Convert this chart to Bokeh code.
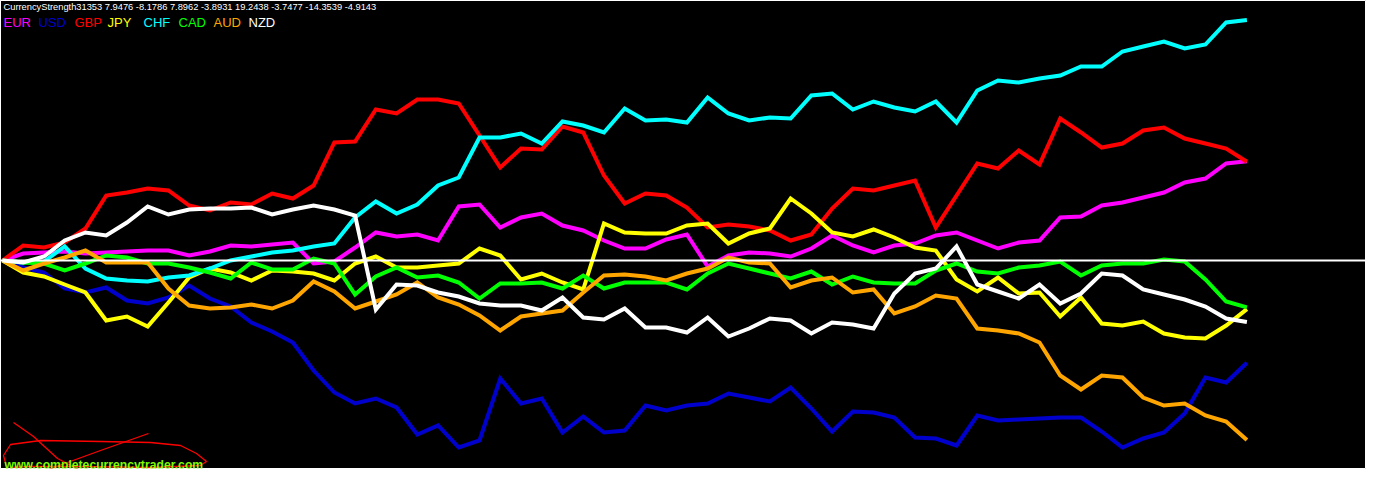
from bokeh.plotting import figure
from bokeh.models import Range1d, Label, Span
from bokeh.embed import file_html
from bokeh.resources import INLINE

# ---------------- data ----------------
CURRENCIES = ["EUR", "USD", "GBP", "JPY", "CHF", "CAD", "AUD", "NZD"]
COLORS = ["#FF00FF", "#0000CD", "#FF0000", "#FFFF00", "#00FFFF", "#00FF00", "#FFA500", "#FFFFFF"]
BARS = list(range(61))

EUR = [0, 0.56, 0.64, 0.72, 0.56, 0.64, 0.72, 0.8, 0.8, 0.4, 0.72, 1.2, 1.12, 1.28, 1.44, -0.24,
       -0.08, 1.04, 2.24, 1.92, 2.08, 1.6, 4.32, 4.48, 2.64, 3.44, 3.76, 2.8, 2.4, 1.6, 0.96, 0.96,
       1.68, 2.08, -0.48, 0.4, 0.64, 0.56, 0.32, 0.96, 2.0, 1.2, 0.64, 1.2, 1.36, 2.0, 2.24, 1.6,
       0.96, 1.44, 1.6, 3.44, 3.52, 4.4, 4.64, 5.04, 5.44, 6.24, 6.56, 7.76, 7.9476]
USD = [0, -0.56, -0.96, -2.24, -2.56, -2.16, -3.2, -3.44, -2.96, -2.0, -3.04, -3.68, -4.96, -5.68,
       -6.56, -8.8, -10.56, -11.44, -11.04, -11.76, -13.92, -13.2, -14.96, -14.4, -9.44, -11.44,
       -11.04, -13.76, -12.48, -13.76, -13.6, -11.6, -12.0, -11.6, -11.44, -10.64, -10.96, -11.28,
       -10.16, -11.84, -13.68, -12.08, -12.16, -12.56, -14.16, -14.24, -14.8, -12.4, -12.8, -12.72,
       -12.64, -12.56, -12.56, -13.68, -14.96, -14.24, -13.76, -12.24, -9.36, -9.76, -8.1786]
GBP = [0, 1.2, 1.04, 1.44, 2.56, 5.2, 5.44, 5.76, 5.6, 4.4, 4.0, 4.64, 4.48, 5.36, 4.96, 6.0,
       9.44, 9.52, 12.08, 11.76, 12.88, 12.88, 12.56, 10.0, 7.44, 8.96, 8.88, 10.72, 10.24, 6.8,
       4.56, 5.36, 5.2, 4.24, 2.64, 2.88, 2.72, 2.4, 1.6, 2.08, 4.16, 5.76, 5.6, 6.0, 6.4, 2.64,
       5.2, 7.76, 7.36, 8.8, 7.68, 11.36, 10.24, 9.04, 9.36, 10.4, 10.64, 9.76, 9.36, 8.96, 7.8962]
JPY = [0, -0.96, -1.28, -1.92, -2.56, -4.8, -4.48, -5.28, -3.36, -1.36, -0.64, -0.96, -1.6, -0.8,
       -0.88, -1.04, -1.6, -0.24, 0.32, -0.56, -0.56, -0.4, -0.24, 0.96, 0.4, -1.52, -1.04, -1.76,
       -2.32, 2.96, 2.24, 2.16, 2.16, 2.8, 2.96, 1.36, 2.16, 2.56, 4.96, 3.76, 2.24, 1.92, 2.48,
       1.84, 1.04, 0.8, -1.52, -2.48, -1.36, -2.64, -2.56, -4.48, -2.96, -5.04, -5.2, -4.88, -5.84,
       -6.16, -6.24, -5.2, -3.8931]
CHF = [0, -0.16, -0.08, 1.12, -0.64, -1.44, -1.6, -1.68, -1.36, -1.2, -0.64, 0.0, 0.32, 0.64, 0.8,
       1.12, 1.36, 3.44, 4.72, 3.76, 4.48, 6.0, 6.64, 9.84, 9.84, 10.16, 9.36, 11.12, 10.8, 10.24,
       12.16, 11.2, 11.28, 11.04, 13.04, 11.76, 11.2, 11.44, 11.36, 13.2, 13.36, 12.08, 12.72, 12.24,
       11.92, 12.72, 11.04, 13.6, 14.4, 14.24, 14.56, 14.8, 15.52, 15.52, 16.72, 17.12, 17.52, 16.96,
       17.28, 19.04, 19.2438]
CAD = [0, -0.16, -0.24, -0.8, -0.24, 0.4, 0.24, -0.24, -0.24, -0.56, -0.96, -1.44, -0.16, -0.72,
       -0.72, 0.16, -0.24, -2.72, -1.28, -0.56, -1.36, -1.2, -1.76, -3.04, -1.84, -1.84, -1.76, -2.24,
       -1.2, -2.24, -1.76, -1.76, -1.76, -2.32, -1.04, -0.24, -0.64, -1.04, -1.44, -0.88, -1.92, -1.28,
       -1.76, -1.84, -1.84, -0.8, -0.24, -0.88, -1.04, -0.56, -0.4, -0.08, -1.2, -0.4, -0.24, -0.24,
       0.08, -0.08, -1.52, -3.28, -3.7477]
AUD = [0, -0.8, -0.24, 0.24, 0.8, -0.16, -0.16, -0.16, -2.24, -3.6, -3.84, -3.76, -3.52, -3.84, -3.2,
       -1.68, -2.48, -3.84, -3.28, -2.72, -1.76, -2.96, -3.52, -4.4, -5.6, -4.48, -4.24, -4.0, -2.56,
       -1.2, -1.12, -1.28, -1.6, -1.04, -0.64, 0.24, -0.16, -0.24, -2.16, -1.6, -1.36, -2.56, -2.32,
       -4.24, -3.68, -2.8, -3.04, -5.44, -5.6, -5.84, -6.56, -9.2, -10.32, -9.2, -9.36, -10.96, -11.6,
       -11.44, -12.4, -12.88, -14.3539]
NZD = [0, -0.16, 0.32, 1.6, 2.24, 2.0, 3.04, 4.32, 3.68, 4.08, 4.16, 4.16, 4.24, 3.68, 4.08, 4.4,
       4.08, 3.6, -3.92, -1.92, -2.0, -2.56, -2.88, -3.44, -3.6, -3.6, -4.0, -2.96, -4.56, -4.72,
       -3.84, -5.36, -5.36, -5.76, -4.56, -6.08, -5.44, -4.64, -4.8, -5.84, -4.96, -5.12, -5.44,
       -2.64, -1.04, -0.64, 1.12, -1.92, -2.48, -3.04, -1.92, -3.44, -2.64, -1.04, -1.2, -2.32,
       -2.72, -3.12, -3.68, -4.64, -4.9143]
SERIES = [EUR, USD, GBP, JPY, CHF, CAD, AUD, NZD]

INDICATOR = "CurrencyStrength31353"
WATERMARK = "www.completecurrencytrader.com"

# ---------------- layout helpers ----------------
W, H = 1366, 483
FRAME_H = 468
PX_PER_BAR = 20.74
PX_PER_UNIT = 12.5
X0_PX = 2            # pixel position of bar 0
ZERO_PX = 260        # pixel position of value 0


def dx(px):      # picture x -> data x
    return (px - X0_PX) / PX_PER_BAR


def dy(py):      # picture y -> data y
    return (ZERO_PX - py) / PX_PER_UNIT


p = figure(width=W, height=H, x_range=Range1d(dx(0), dx(W)), y_range=Range1d(dy(FRAME_H), dy(0)),
           output_backend="svg", toolbar_location=None,
           x_axis_location=None, y_axis_location=None,
           min_border_left=0, min_border_top=0, min_border_right=0,
           min_border_bottom=H - FRAME_H,
           background_fill_color="black", border_fill_color="white",
           outline_line_color="white", outline_line_width=1)
p.grid.visible = False

for name, col, vals in zip(CURRENCIES, COLORS, SERIES):
    p.line(BARS, vals, line_color=col, line_width=4, line_join="miter")

p.add_layout(Span(location=0, dimension="width", line_color="white", line_width=2))

# title row
title = INDICATOR + " " + " ".join(f"{s[-1]:.4f}" for s in SERIES)
p.add_layout(Label(x=dx(3), y=dy(1), text=title, text_color="white",
                   text_font="Liberation Sans", text_font_size="9.3px", text_baseline="top"))
LEG_X = [3, 38, 74, 107, 143, 178, 213, 248]
for lx, name, col in zip(LEG_X, CURRENCIES, COLORS):
    p.add_layout(Label(x=dx(lx), y=dy(14), text=name, text_color=col,
                       text_font="Liberation Sans", text_font_size="13px", text_baseline="top"))

# watermark + scribbles
p.add_layout(Label(x=dx(4), y=dy(464), text=WATERMARK, text_color="#7CFC00",
                   text_font="Liberation Sans", text_font_size="12.2px", text_font_style="bold",
                   text_baseline="alphabetic"))
SCRIBBLES = [
    [(6, 466), (3, 455), (10, 444), (40, 440), (100, 441), (150, 442), (180, 445), (196, 453),
     (206, 461), (200, 465), (150, 467), (80, 466), (30, 466), (10, 467)],
    [(13, 422), (33, 436), (57, 458), (80, 470)],
    [(148, 433), (100, 450), (67, 462), (40, 472)],
]
for s in SCRIBBLES:
    p.line([dx(x) for x, _ in s], [dy(y) for _, y in s], line_color="red", line_width=1.3)

open("out.html", "w").write(file_html(p, INLINE))
